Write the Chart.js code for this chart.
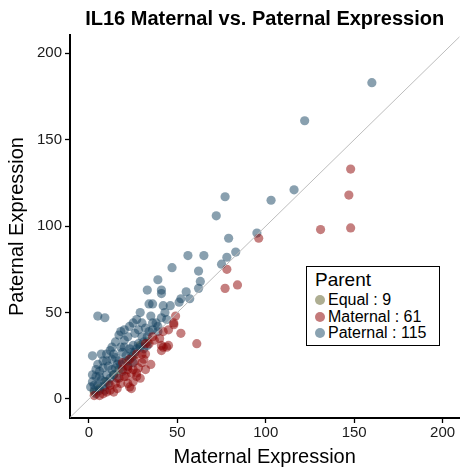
<!DOCTYPE html>
<html>
<head>
<meta charset="utf-8">
<script src="https://cdn.jsdelivr.net/npm/chart.js@4"></script>
<style>
  body { margin: 0; background: #fff; font-family: "Liberation Sans", Arial, sans-serif; }
  #wrap { position: relative; width: 464px; height: 470px; }
  #legend {
    position: absolute; left: 306px; top: 266px; width: 134px; height: 80px;
    border: 1px solid #000; box-sizing: border-box; background: #fff; padding: 2px 0 0 8px;
  }
  #legend .ttl { font-size: 19px; line-height: 22px; color: #000; margin-bottom: 1px; }
  #legend .row { font-size: 16px; line-height: 16.5px; color: #000; white-space: nowrap; }
  #legend .dot { display: inline-block; width: 10px; height: 10px; border-radius: 50%; margin-right: 3px; vertical-align: 0px; }
</style>
</head>
<body>
<div id="wrap">
  <canvas id="chart" width="464" height="470"></canvas>
  <div id="legend"></div>
</div>
<script>
const chartTitle = 'IL16 Maternal vs. Paternal Expression';
const xLabel = 'Maternal Expression';
const yLabel = 'Paternal Expression';
const tickValues = [0, 50, 100, 150, 200];
const legendTitle = 'Parent';

// [maternal, paternal]
const equalPts = [[3, 4], [6, 6], [10, 10], [14, 14], [17, 17], [22, 22], [25, 25], [29, 31], [33, 33]];

const maternalPts = [
  [148, 133], [147, 118], [131, 98], [148, 99], [96, 93], [78, 75], [77, 64], [84, 66],
  [49, 48], [48, 44], [48, 43], [42, 39], [52, 38], [61, 32], [37, 34], [41, 31],
  [44, 30], [41, 28], [32, 32], [34, 32], [42, 30], [45, 31], [30, 26], [27, 26],
  [32, 26], [31, 23], [26, 22], [23, 23], [30, 21], [32, 17], [25, 17], [27, 15],
  [29, 12], [22, 19], [19, 17], [22, 17], [24, 15], [21, 13], [27, 13], [25, 10],
  [18, 9], [23, 7], [16, 6], [14, 4], [3, 2], [6, 2], [10, 4], [12, 8],
  [15, 9], [20, 13], [22, 9], [24, 6], [19, 21], [36, 36], [40, 35], [35, 20],
  [28, 18], [17, 12], [8, 3], [12, 5], [45, 40]
];

const paternalPts = [
  [160, 183], [122, 161], [116, 121], [103, 115], [77, 117], [72, 106], [95, 96], [79, 93],
  [56, 83], [65, 83], [83, 85], [78, 82], [75, 78], [47, 76], [62, 74], [39, 69],
  [63, 68], [33, 63], [41, 63], [41, 61], [62, 64], [55, 62], [52, 58], [57, 58],
  [34, 55], [36, 55], [42, 54], [46, 54], [51, 56], [29, 50], [43, 50], [35, 48],
  [41, 47], [44, 46], [36, 44], [38, 44], [32, 41], [34, 39], [5, 48], [9, 47],
  [25, 44], [18, 39], [17, 37], [2, 25], [7, 26], [18, 30], [20, 30], [23, 29],
  [25, 31], [28, 32], [10, 22], [13, 23], [15, 24], [17, 22], [8, 18], [13, 17],
  [6, 16], [10, 14], [4, 13], [7, 11], [2, 10], [1, 7], [5, 8], [8, 7],
  [3, 5], [12, 28], [14, 26], [20, 34], [22, 36], [26, 38], [28, 40], [30, 36],
  [24, 27], [27, 29], [21, 25], [19, 27], [16, 20], [11, 19], [14, 14], [9, 10],
  [12, 12], [3, 8], [6, 5], [11, 9], [15, 18], [18, 20], [21, 22], [24, 24],
  [26, 27], [29, 30], [31, 33], [33, 36], [30, 44], [27, 46], [23, 42], [20, 40],
  [15, 33], [13, 30], [10, 26], [8, 22], [5, 20], [4, 17], [6, 13], [2, 14],
  [9, 5], [4, 3], [16, 12], [19, 16], [22, 19], [25, 21], [31, 29], [33, 31],
  [36, 40], [39, 42], [39, 39]
];

const diagEnds = [-20, 230];

const colors = {
  Equal: 'rgba(88, 92, 34, 0.5)',
  Maternal: 'rgba(139, 0, 0, 0.5)',
  Paternal: 'rgba(20, 66, 96, 0.5)'
};
const legendSwatch = { Equal: '#aeae92', Maternal: '#c47a7a', Paternal: '#8aa2b1' };

const toXY = arr => arr.map(([x, y]) => ({ x, y }));

function pointSet(label, pts) {
  return {
    type: 'scatter',
    label,
    data: toXY(pts),
    backgroundColor: colors[label],
    borderWidth: 0,
    pointRadius: 4.6,
    pointHoverRadius: 4.6
  };
}

const keepTicks = scale => { scale.ticks = tickValues.map(v => ({ value: v })); };

const axisBase = {
  type: 'linear',
  grid: { drawOnChartArea: false, drawTicks: true, tickLength: 5, color: '#000', tickWidth: 1.3 },
  border: { display: true, color: '#000', width: 2 },
  afterBuildTicks: keepTicks
};

// title centred over the plot panel, like ggplot
const titlePlugin = {
  id: 'panelTitle',
  afterDraw(chart) {
    const { ctx, chartArea } = chart;
    ctx.save();
    ctx.font = 'bold 20px "Liberation Sans", Arial, sans-serif';
    ctx.fillStyle = '#000';
    ctx.textAlign = 'center';
    ctx.textBaseline = 'middle';
    ctx.fillText(chartTitle, (chartArea.left + chartArea.right) / 2, 19);
    ctx.restore();
  }
};

new Chart(document.getElementById('chart'), {
  data: {
    datasets: [
      {
        type: 'line',
        label: 'diag',
        data: diagEnds.map(v => ({ x: v, y: v })),
        borderColor: '#bdbdbd',
        borderWidth: 1,
        pointRadius: 0,
        clip: 0
      },
      pointSet('Maternal', maternalPts),
      pointSet('Paternal', paternalPts),
      pointSet('Equal', equalPts)
    ]
  },
  options: {
    responsive: false,
    animation: false,
    events: [],
    layout: { padding: { top: 35, right: 2, left: 0, bottom: 0 } },
    plugins: { legend: { display: false }, tooltip: { enabled: false }, title: { display: false } },
    scales: {
      x: {
        ...axisBase,
        min: -10.7, max: 209.5,
        ticks: { color: '#1a1a1a', font: { size: 15, family: '"Liberation Sans", Arial, sans-serif' }, padding: 1, maxRotation: 0 },
        title: { display: true, text: xLabel, color: '#000', font: { size: 20, family: '"Liberation Sans", Arial, sans-serif' }, padding: { top: 0, bottom: 1 } },
        afterFit: s => { s.height = 52; }
      },
      y: {
        ...axisBase,
        min: -11, max: 210.6,
        ticks: { color: '#1a1a1a', font: { size: 15, family: '"Liberation Sans", Arial, sans-serif' }, padding: 3 },
        title: { display: true, text: yLabel, color: '#000', font: { size: 20, family: '"Liberation Sans", Arial, sans-serif' }, padding: { top: 5, bottom: 0 } },
        afterFit: s => { s.width = 70; }
      }
    }
  },
  plugins: [titlePlugin]
});

const counts = { Equal: equalPts.length, Maternal: maternalPts.length, Paternal: paternalPts.length };
document.getElementById('legend').innerHTML =
  `<div class="ttl">${legendTitle}</div>` +
  Object.keys(counts).map(k =>
    `<div class="row"><span class="dot" style="background:${legendSwatch[k]}"></span>${k} : ${counts[k]}</div>`
  ).join('');
</script>
</body>
</html>
